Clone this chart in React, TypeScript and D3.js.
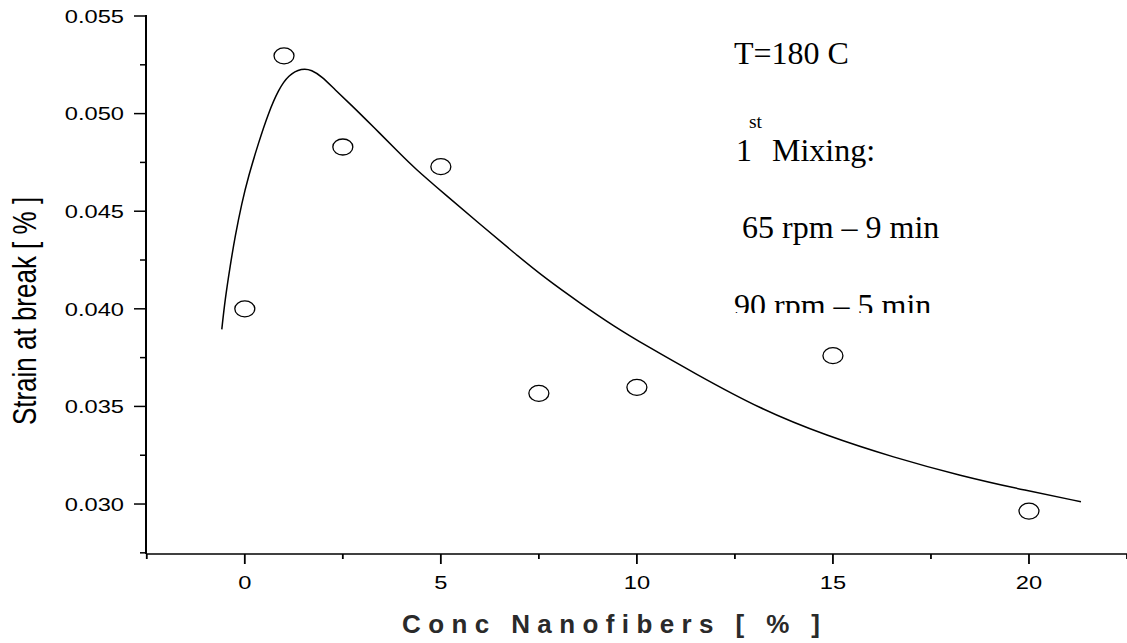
import React from 'react';
import * as d3 from 'd3';

// Measured data points (Conc Nanofibers %, Strain at break)
const conc = [0, 1, 2.5, 5, 7.5, 10, 15, 20];
const strain = [0.04, 0.05296, 0.04829, 0.04728, 0.03567, 0.03598, 0.0376, 0.02964];

// Fitted curve
const fitX = [-0.587, -0.503, -0.375, -0.247, -0.077, 0.092, 0.347, 0.602, 0.857, 1.112, 1.454, 1.709, 1.964, 2.304, 2.686, 3.281, 3.962, 4.301, 5.153, 6.003, 6.852, 7.704, 8.554, 9.403, 10.255, 11.444, 13.145, 14.847, 16.546, 18.247, 19.949, 21.326];
const fitY = [0.03895, 0.04048, 0.04218, 0.04372, 0.04542, 0.04678, 0.04849, 0.05003, 0.05122, 0.05198, 0.05233, 0.05224, 0.0519, 0.05122, 0.0505, 0.04932, 0.04794, 0.04726, 0.04578, 0.04433, 0.04289, 0.0415, 0.04029, 0.03912, 0.03809, 0.03673, 0.03486, 0.03349, 0.03239, 0.03145, 0.03068, 0.03012];

const xTicks = [0, 5, 10, 15, 20];
const xMinorTicks = [-2.5, 2.5, 7.5, 12.5, 17.5, 22.5];
const yTicks = [0.03, 0.035, 0.04, 0.045, 0.05, 0.055];
const yTickLabels = ['0.030', '0.035', '0.040', '0.045', '0.050', '0.055'];
const yMinorTicks = [0.0275, 0.0325, 0.0375, 0.0425, 0.0475, 0.0525];

const xTitle = 'Conc Nanofibers [ % ]';
const yTitle = 'Strain at break [ % ]';
const noteTemp = 'T=180 C';
const noteMixNum = '1';
const noteMixSup = 'st';
const noteMix = 'Mixing:';
const noteStep1 = '65 rpm – 9 min';
const noteStep2 = '90 rpm – 5 min';

const W = 1127;
const H = 643;
const left = 146;
const right = 1127;
const top = 16;
const bottom = 554;

export default function App() {
  const x = d3.scaleLinear().domain([-2.52, 22.5]).range([left, right]);
  const y = d3.scaleLinear().domain([0.02744, 0.055]).range([bottom, top]);
  const fitPts: [number, number][] = fitX.map((v, i) => [v, fitY[i]]);
  const line = d3
    .line<[number, number]>()
    .x((d) => x(d[0]))
    .y((d) => y(d[1]))
    .curve(d3.curveBasis);
  const tickFont = 'Liberation Sans, Arial, sans-serif';
  const serif = 'Liberation Serif, Times New Roman, serif';
  const sx = 1.3;

  return (
    <svg
      width={W}
      height={H}
      style={{ position: 'absolute', left: 0, top: 0, background: '#fff' }}
    >
      <defs>
        <clipPath id="clipNote">
          <rect x={600} y={0} width={500} height={313} />
        </clipPath>
      </defs>
      <rect x={0} y={0} width={W} height={H} fill="#fff" />

      {/* axes */}
      <line x1={left} x2={left} y1={y(0.055) - 1} y2={bottom} stroke="#000" strokeWidth={2} />
      <line x1={left} x2={right} y1={bottom} y2={bottom} stroke="#000" strokeWidth={1.6} />

      {yTicks.map((t, i) => (
        <g key={'yt' + i}>
          <line x1={left - 12} x2={left} y1={y(t)} y2={y(t)} stroke="#000" strokeWidth={1.5} />
          <text
            transform={`translate(124,${y(t) + 6.8}) scale(${sx},1)`}
            textAnchor="end"
            fontFamily={tickFont}
            fontSize={18.2}
            fill="#000"
          >
            {yTickLabels[i]}
          </text>
        </g>
      ))}
      {yMinorTicks.map((t, i) => (
        <line key={'ym' + i} x1={left - 6} x2={left} y1={y(t)} y2={y(t)} stroke="#000" strokeWidth={1.5} />
      ))}

      {xTicks.map((t, i) => (
        <g key={'xt' + i}>
          <line x1={x(t)} x2={x(t)} y1={bottom} y2={bottom + 10} stroke="#000" strokeWidth={1.8} />
          <text
            transform={`translate(${x(t)},${588.5}) scale(${sx},1)`}
            textAnchor="middle"
            fontFamily={tickFont}
            fontSize={18.2}
            fill="#000"
          >
            {String(t)}
          </text>
        </g>
      ))}
      {xMinorTicks.map((t, i) => (
        <line key={'xm' + i} x1={x(t)} x2={x(t)} y1={bottom} y2={bottom + 5} stroke="#000" strokeWidth={1.8} />
      ))}

      {/* axis titles */}
      <text
        x={611}
        y={633}
        textAnchor="middle"
        fontFamily={tickFont}
        fontWeight="bold"
        fontSize={26}
        fill="#2a2a2a"
        textLength={418}
        lengthAdjust="spacing"
      >
        {xTitle}
      </text>
      <text
        transform={`translate(36,311) scale(${sx},1) rotate(-90)`}
        textAnchor="middle"
        fontFamily={tickFont}
        fontSize={26}
        fill="#000"
      >
        {yTitle}
      </text>

      {/* fit curve */}
      <path d={line(fitPts) || ''} fill="none" stroke="#000" strokeWidth={1.5} />

      {/* markers */}
      {conc.map((c, i) => (
        <ellipse
          key={'p' + i}
          cx={x(c)}
          cy={y(strain[i])}
          rx={10}
          ry={8}
          fill="none"
          stroke="#000"
          strokeWidth={1.3}
        />
      ))}

      {/* annotations */}
      <g fontFamily={serif} fill="#000">
        <text x={734} y={63.5} fontSize={32}>{noteTemp}</text>
        <text x={749} y={127.5} fontSize={19.5}>{noteMixSup}</text>
        <text x={736} y={160.7} fontSize={32}>{noteMixNum}</text>
        <text x={772} y={160.7} fontSize={32}>{noteMix}</text>
        <text x={742} y={238.3} fontSize={32}>{noteStep1}</text>
        <text x={734} y={315.7} fontSize={32} clipPath="url(#clipNote)">{noteStep2}</text>
      </g>
    </svg>
  );
}
